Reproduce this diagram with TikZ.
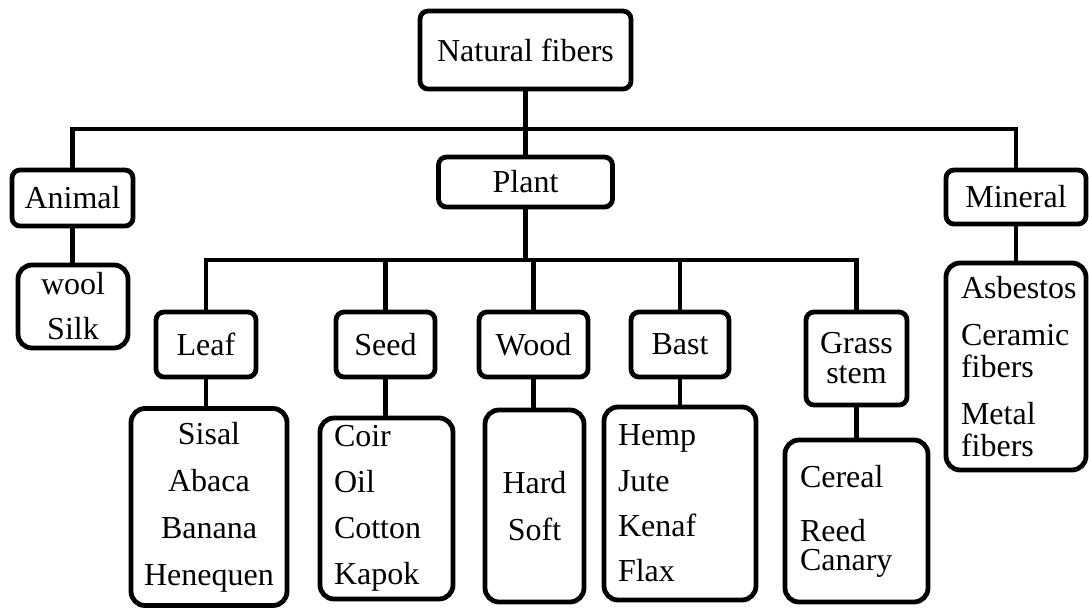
\documentclass[tikz,border=0pt]{standalone}
\usepackage{fontspec}
\setmainfont{Liberation Serif}
\tikzset{
  catbox/.style={draw, rounded corners=4pt, line width=2.4pt, inner sep=0pt, align=center},
  listbox/.style={draw, rounded corners=7pt, line width=2.4pt, inner sep=0pt},
  link/.style={line width=2.4pt},
}
\begin{document}
\begin{tikzpicture}[x=0.5pt, y=-0.5pt, font=\fontsize{16}{23}\selectfont]
  \useasboundingbox (0,0) rectangle (1089,607);
  % top
  \node[catbox, minimum width=105.5pt, minimum height=39pt] (nat) at (525.5,50) {Natural fibers};
  % first level
  \node[catbox, minimum width=60.5pt, minimum height=28pt] (animal) at (72.5,198) {Animal};
  \node[catbox, minimum width=87pt, minimum height=25pt] (plant) at (525.5,182) {Plant};
  \node[catbox, minimum width=70pt, minimum height=27pt] (mineral) at (1016,197) {Mineral};
  % plant parts
  \node[catbox, minimum width=50pt, minimum height=32.5pt] (leaf) at (206,344.5) {Leaf};
  \node[catbox, minimum width=49.5pt, minimum height=32.5pt] (seed) at (385.5,344.5) {Seed};
  \node[catbox, minimum width=54.5pt, minimum height=32.5pt] (wood) at (533.5,344.5) {Wood};
  \node[catbox, minimum width=49pt, minimum height=32.5pt] (bast) at (680,344.5) {Bast};
  \node[catbox, minimum width=50.5pt, minimum height=46.5pt, font=\fontsize{16}{15}\selectfont] (grass) at (856.5,358.5) {Grass\\stem};
  % lists
  \node[listbox, minimum width=55pt, minimum height=41.5pt, align=center, font=\fontsize{16}{22.5}\selectfont] (animallist) at (73,306.5) {wool\\Silk};
  \node[listbox, minimum width=78pt, minimum height=98.5pt, align=center, font=\fontsize{16}{23.5}\selectfont] (leaflist) at (209,507) {Sisal\\Abaca\\Banana\\Henequen};
  \node[listbox, minimum width=66.5pt, minimum height=90.5pt, text width=52.5pt, align=left] (seedlist) at (386.5,508.5) {Coir\\Oil\\Cotton\\Kapok};
  \node[listbox, minimum width=49.5pt, minimum height=96pt, align=center, font=\fontsize{16}{23.5}\selectfont] (woodlist) at (534.5,506) {Hard\\Soft};
  \node[listbox, minimum width=76pt, minimum height=96.5pt, text width=62pt, align=left, font=\fontsize{16}{22.7}\selectfont] (bastlist) at (680,503.5) {Hemp\\Jute\\Kenaf\\Flax};
  \node[listbox, minimum width=71.5pt, minimum height=81pt, text width=56.5pt, align=left, font=\fontsize{16}{14.5}\selectfont] (grasslist) at (856.5,521) {Cereal\\[12.5pt]Reed\\Canary};
  \node[listbox, minimum width=70pt, minimum height=103.5pt, text width=55pt, align=left, font=\fontsize{16}{16}\selectfont] (minlist) at (1016,366.5) {Asbestos\\[7.5pt]Ceramic\\fibers\\[7.5pt]Metal\\fibers};
  % first branch
  \coordinate (bar1) at (0,129);
  \draw[link] (nat.south) -- (nat.south |- plant.north);
  \draw[link] (animal.north) -- (animal.north |- bar1) -- (mineral.north |- bar1) -- (mineral.north);
  % plant branch
  \coordinate (bar2) at (0,260);
  \draw[link] (plant.south) -- (plant.south |- bar2);
  \draw[link] (leaf.north) -- (leaf.north |- bar2) -- (grass.north |- bar2) -- (grass.north);
  \foreach \part in {seed, wood, bast}
    \draw[link] (\part.north) -- (\part.north |- bar2);
  % down to the lists
  \foreach \part in {animal, leaf, seed, wood, bast, grass}
    \draw[link] (\part.south) -- (\part.south |- \part list.north);
  \draw[link] (mineral.south) -- (mineral.south |- minlist.north);
\end{tikzpicture}
\end{document}
